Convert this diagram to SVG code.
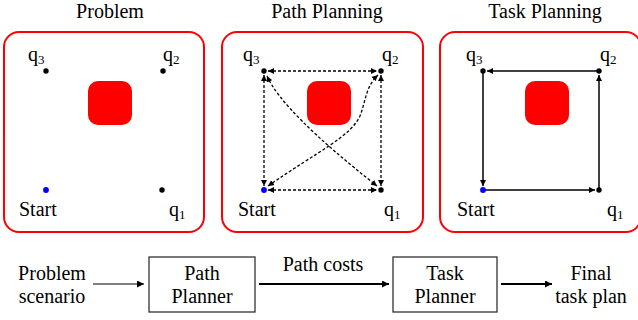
<svg xmlns="http://www.w3.org/2000/svg" width="638" height="320" viewBox="0 0 638 320">
<style>
  .t { font-family: 'Liberation Serif', 'DejaVu Serif', serif; font-size: 20px; fill: #000; }
  .sub { font-size: 13px; }
  .panel { fill: #fff; stroke: #ff0000; stroke-width: 2; }
  .obs { fill: #ff0000; }
  .dot { fill: #000; }
  .start { fill: #0000ff; }
  .dash { fill: none; stroke: #000; stroke-width: 1.3; stroke-dasharray: 3 2; }
  .solid { fill: none; stroke: #000; stroke-width: 1.5; }
  .box { fill: #fff; stroke: #333; stroke-width: 1.3; }
</style>
<defs>
  <marker id="ah" viewBox="0 0 10 10" refX="10" refY="5" markerWidth="6" markerHeight="6" markerUnits="userSpaceOnUse" orient="auto-start-reverse">
    <path d="M0,0 L10,5 L0,10 z" fill="#000"/>
  </marker>
  <marker id="ah2" viewBox="0 0 10 10" refX="10" refY="5" markerWidth="7" markerHeight="7" markerUnits="userSpaceOnUse" orient="auto">
    <path d="M0,0 L10,5 L0,10 z" fill="#000"/>
  </marker>
</defs>

<g font-family="Liberation Serif, DejaVu Serif, serif">
<!-- Titles -->
<text class="t" x="110" y="18" text-anchor="middle">Problem</text>
<text class="t" x="327" y="18" text-anchor="middle">Path Planning</text>
<text class="t" x="545" y="18" text-anchor="middle">Task Planning</text>

<!-- Panel 1: Problem -->
<g id="panel-problem">
  <rect class="panel" x="4" y="32" width="200" height="200" rx="15"/>
  <rect class="obs" x="88" y="81" width="44" height="44" rx="10"/>
  <circle class="dot" cx="46" cy="71" r="2.7"/>
  <circle class="dot" cx="163" cy="71" r="2.7"/>
  <circle class="start" cx="46" cy="190" r="2.9"/>
  <circle class="dot" cx="162" cy="190" r="2.7"/>
  <text class="t" x="28" y="61">q<tspan class="sub" dy="3">3</tspan></text>
  <text class="t" x="163" y="61">q<tspan class="sub" dy="3">2</tspan></text>
  <text class="t" x="19" y="216">Start</text>
  <text class="t" x="169" y="216">q<tspan class="sub" dy="3">1</tspan></text>
</g>

<!-- Panel 2: Path Planning -->
<g id="panel-path">
  <rect class="panel" x="222" y="32" width="201" height="200" rx="15"/>
  <rect class="obs" x="307" y="81" width="44" height="44" rx="10"/>
  <g id="path-connectors">
    <line class="dash" x1="268" y1="71" x2="377" y2="71" marker-start="url(#ah)" marker-end="url(#ah)"/>
    <line class="dash" x1="268" y1="190" x2="377" y2="190" marker-start="url(#ah)" marker-end="url(#ah)"/>
    <line class="dash" x1="264" y1="75" x2="264" y2="186" marker-start="url(#ah)" marker-end="url(#ah)"/>
    <line class="dash" x1="381" y1="75" x2="381" y2="186" marker-start="url(#ah)" marker-end="url(#ah)"/>
    <path class="dash" d="M267,76 Q283,112 377,186" marker-start="url(#ah)" marker-end="url(#ah)"/>
    <path class="dash" d="M268,186 C320,150 350,137 360,116 C366,100 366,86 378,75" marker-start="url(#ah)" marker-end="url(#ah)"/>
  </g>
  <circle class="dot" cx="264" cy="71" r="2.7"/>
  <circle class="dot" cx="381" cy="71" r="2.7"/>
  <circle class="start" cx="264" cy="190" r="2.9"/>
  <circle class="dot" cx="381" cy="190" r="2.7"/>
  <text class="t" x="243" y="61">q<tspan class="sub" dy="3">3</tspan></text>
  <text class="t" x="382" y="61">q<tspan class="sub" dy="3">2</tspan></text>
  <text class="t" x="238" y="216">Start</text>
  <text class="t" x="384" y="216">q<tspan class="sub" dy="3">1</tspan></text>
</g>

<!-- Panel 3: Task Planning -->
<g id="panel-task">
  <rect class="panel" x="440" y="32" width="201" height="200" rx="15"/>
  <rect class="obs" x="525" y="81" width="44" height="44" rx="10"/>
  <g id="task-connectors">
    <line class="solid" x1="599" y1="71" x2="487" y2="71" marker-end="url(#ah)"/>
    <line class="solid" x1="483" y1="71" x2="483" y2="186" marker-end="url(#ah)"/>
    <line class="solid" x1="483" y1="190" x2="595" y2="190" marker-end="url(#ah)"/>
    <line class="solid" x1="599" y1="190" x2="599" y2="75" marker-end="url(#ah)"/>
  </g>
  <circle class="dot" cx="483" cy="71" r="2.7"/>
  <circle class="dot" cx="599" cy="71" r="2.7"/>
  <circle class="start" cx="483" cy="190" r="2.9"/>
  <circle class="dot" cx="599" cy="190" r="2.7"/>
  <text class="t" x="466" y="61">q<tspan class="sub" dy="3">3</tspan></text>
  <text class="t" x="600" y="61">q<tspan class="sub" dy="3">2</tspan></text>
  <text class="t" x="457" y="216">Start</text>
  <text class="t" x="607" y="216">q<tspan class="sub" dy="3">1</tspan></text>
</g>

<!-- Bottom pipeline -->
<g id="problem-scenario">
  <text class="t" x="52" y="280" text-anchor="middle">Problem</text>
  <text class="t" x="52" y="303" text-anchor="middle">scenario</text>
</g>
<g id="path-planner">
  <rect class="box" x="149" y="257" width="106" height="55"/>
  <text class="t" x="202" y="280" text-anchor="middle">Path</text>
  <text class="t" x="202" y="303" text-anchor="middle">Planner</text>
</g>
<g id="task-planner">
  <rect class="box" x="393" y="257" width="104" height="55"/>
  <text class="t" x="445" y="280" text-anchor="middle">Task</text>
  <text class="t" x="445" y="303" text-anchor="middle">Planner</text>
</g>
<g id="final-plan">
  <text class="t" x="591" y="280" text-anchor="middle">Final</text>
  <text class="t" x="591" y="303" text-anchor="middle">task plan</text>
</g>
<g id="pipeline-connectors">
  <line x1="93" y1="284" x2="144" y2="284" stroke="#000" stroke-width="1" marker-end="url(#ah2)"/>
  <line x1="259" y1="284" x2="389" y2="284" stroke="#000" stroke-width="1.8" marker-end="url(#ah2)"/>
  <text class="t" x="323" y="271" text-anchor="middle">Path costs</text>
  <line x1="501" y1="284" x2="552" y2="284" stroke="#000" stroke-width="1.8" marker-end="url(#ah2)"/>
</g>
</g>
</svg>
